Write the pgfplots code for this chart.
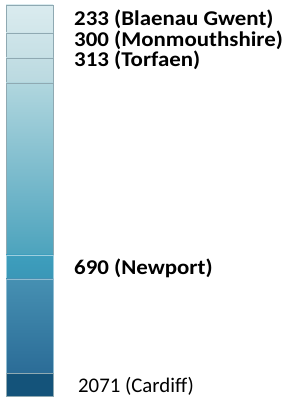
\documentclass[border=0pt]{standalone}
\usepackage{pgfplots}
\pgfplotsset{compat=1.18}
\usepackage{graphicx}
\usepackage{fontspec}
\setmainfont{Carlito}
\definecolor{c1t}{HTML}{DAEBEF}\definecolor{c1b}{HTML}{D1E6EA}
\definecolor{c2t}{HTML}{CEE4E9}\definecolor{c2b}{HTML}{C6E0E5}
\definecolor{c3t}{HTML}{C3DEE4}\definecolor{c3b}{HTML}{BAD9E0}
\definecolor{c4t}{HTML}{B0D6DE}\definecolor{c4b}{HTML}{4CA3BD}
\definecolor{c5t}{HTML}{3E9EBD}\definecolor{c5b}{HTML}{3A97B7}
\definecolor{c6t}{HTML}{4690B2}\definecolor{c6b}{HTML}{2B6C97}
\definecolor{c7}{HTML}{14537A}
\definecolor{sep}{HTML}{8FA9B2}
\newcommand{\lab}[1]{\scalebox{1.09}[1]{#1}}
\begin{document}
\begin{tikzpicture}
\path[use as bounding box] (-6pt,-3pt) rectangle (281pt,396pt);
\begin{axis}[
  scale only axis, width=47pt, height=391pt,
  xmin=-0.5, xmax=0.5, ymin=0, ymax=391,
  axis lines=none, ticks=none,
  ybar stacked, bar width=47pt,
  clip=false,
  every axis plot/.append style={draw=sep, line width=0.5pt},
]
\addplot[fill=c7] coordinates {(0,23)};
\addplot[top color=c6t, bottom color=c6b, draw=c6t!60!white] coordinates {(0,94)};
\addplot[top color=c5t, bottom color=c5b, draw=c5t!50!white] coordinates {(0,24)};
\addplot[top color=c4t, bottom color=c4b] coordinates {(0,172)};
\addplot[top color=c3t, bottom color=c3b] coordinates {(0,25)};
\addplot[top color=c2t, bottom color=c2b] coordinates {(0,25)};
\addplot[top color=c1t, bottom color=c1b] coordinates {(0,28)};
\end{axis}
\begin{scope}[every node/.style={anchor=base west, inner sep=0pt, font=\fontsize{21}{23}\selectfont\bfseries}]
\node at (68pt,370pt) {\lab{233 (Blaenau Gwent)}};
\node at (68pt,349pt) {\lab{300 (Monmouthshire)}};
\node at (68pt,329pt) {\lab{313 (Torfaen)}};
\node at (68pt,121pt) {\lab{690 (Newport)}};
\node[font=\fontsize{20.8}{22}\selectfont] at (72pt,4pt) {2071 (Cardiff)};
\end{scope}
\end{tikzpicture}
\end{document}
